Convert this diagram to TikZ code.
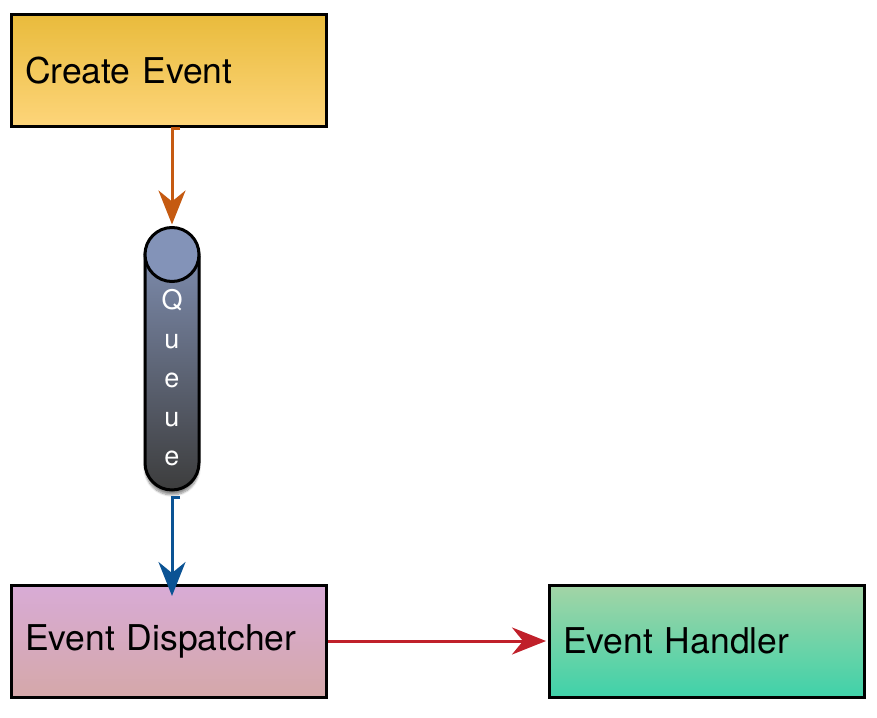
\documentclass[tikz,border=0pt]{standalone}
\usepackage{fontspec}
\setmainfont{TeX Gyre Heros}
\usetikzlibrary{arrows.meta,shadows.blur}
\definecolor{ceTop}{HTML}{E9BB3C}
\definecolor{ceBot}{HTML}{FDD57A}
\definecolor{edTop}{HTML}{D8ABD6}
\definecolor{edBot}{HTML}{D5A8A9}
\definecolor{ehTop}{HTML}{A3D4A6}
\definecolor{ehBot}{HTML}{3FD2A9}
\definecolor{qTop}{HTML}{8393B8}
\definecolor{qBot}{HTML}{3D3D3D}
\definecolor{arrOrange}{HTML}{C55A11}
\definecolor{arrBlue}{HTML}{0B5394}
\definecolor{arrRed}{HTML}{C0202A}
\begin{document}
\begin{tikzpicture}[x=1pt,y=-1pt,
  box/.style={draw=black, line width=3pt, minimum width=315pt, minimum height=112pt,
    text width=288pt, inner xsep=13.5pt, align=left,
    font=\fontsize{35.5}{40}\selectfont},
  conn/.style={line width=3pt, -{Stealth[length=34pt,width=27pt,inset=11pt]}},
]
\useasboundingbox (0,0) rectangle (877,717);
\node[box, top color=ceTop, bottom color=ceBot] (ce) at (169,70.5) {Create Event};
\node[box, top color=edTop, bottom color=edBot] (ed) at (169,641) {Event Dispatcher};
\node[box, top color=ehTop, bottom color=ehBot] (eh) at (707,641) {Event Handler};
\node[draw=black, line width=3pt, minimum width=54pt, minimum height=261pt,
  rounded corners=27pt, top color=qTop, bottom color=qBot,
  blur shadow={shadow xshift=0pt, shadow yshift=-5pt, shadow blur steps=8, shadow opacity=45}] (q) at (172,359.5) {};
\draw[line width=3pt, fill=qTop] ([yshift=-27pt]q.north) circle[radius=27pt];
\node[text=white, align=center, font=\fontsize{27}{39}\selectfont] (qt) at (172,378) {Q\\u\\e\\u\\e};
\draw[conn, arrOrange, shorten >=3pt] ([xshift=8pt]ce.south -| q.north) -- (ce.south -| q.north) -- (q.north);
\draw[conn, arrBlue, shorten >=-12.5pt] ([shift={(8pt,-6pt)}]q.south) -- ([yshift=-6pt]q.south) -- (ed.north -| q.south);
\draw[conn, arrRed, shorten >=2pt] (ed.east) -- (eh.west);
\end{tikzpicture}
\end{document}
